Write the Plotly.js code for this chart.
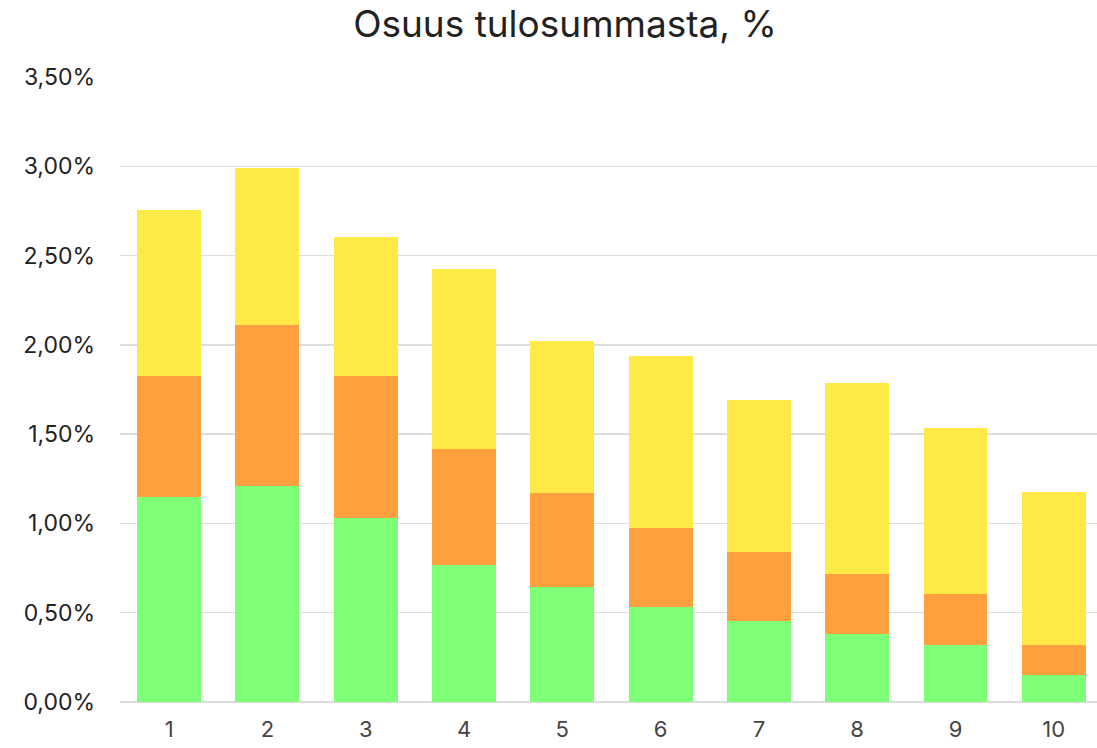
<!DOCTYPE html>
<html>
<head>
<meta charset="utf-8">
<script src="https://cdn.plot.ly/plotly-3.0.1.min.js"></script>
<style>html,body{margin:0;padding:0;background:#fff;}#chart{width:1097px;height:748px;}</style>
</head>
<body>
<div id="chart"></div>
<script>
const categories = ['1','2','3','4','5','6','7','8','9','10'];
// segment values (%)
const greenValues  = [1.148, 1.210, 1.030, 0.767, 0.644, 0.532, 0.454, 0.381, 0.319, 0.151];
const orangeValues = [0.678, 0.901, 0.796, 0.650, 0.526, 0.442, 0.386, 0.336, 0.286, 0.168];
const yellowValues = [0.929, 0.879, 0.778, 1.008, 0.852, 0.964, 0.851, 1.069, 0.929, 0.857];
const yTicks = [0, 0.5, 1, 1.5, 2, 2.5, 3, 3.5];
const yTickLabels = ['0,00%', '0,50%', '1,00%', '1,50%', '2,00%', '2,50%', '3,00%', '3,50%'];

const font = 'Inter, "Work Sans", "Noto Sans", sans-serif';
const mk = (y, color) => ({
  type: 'bar', x: categories, y: y,
  marker: {color: color, line: {width: 0}},
  hoverinfo: 'skip', showlegend: false
});
const data = [
  mk(greenValues, '#7fff77'),
  mk(orangeValues, '#ff9f3d'),
  mk(yellowValues, '#fee946')
];
const layout = {
  width: 1097, height: 748,
  margin: {l: 120, r: 0, t: 77, b: 46},
  paper_bgcolor: '#fff', plot_bgcolor: '#fff',
  barmode: 'stack', bargap: 0.35,
  font: {family: font, color: '#222', size: 23},
  title: {text: 'Osuus tulosummasta, %', x: 0.515, xanchor: 'center', y: 0.968, yanchor: 'middle',
          font: {family: font, size: 37, color: '#222'}},
  xaxis: {type: 'category', range: [-0.5, 9.44], showgrid: false, zeroline: false, showline: false,
          ticks: '', tickfont: {family: font, size: 22, color: '#444'}, ticklabelstandoff: 12},
  yaxis: {range: [0, 3.5], tickvals: yTicks, ticktext: yTickLabels,
          showgrid: true, gridcolor: '#dddddd', gridwidth: 1.5,
          zeroline: true, zerolinecolor: '#dddddd', zerolinewidth: 1.5,
          showline: false, ticks: '', ticklabelstandoff: 24,
          tickfont: {family: font, size: 23, color: '#222'}}
};
Plotly.newPlot('chart', data, layout, {displayModeBar: false, staticPlot: true});
</script>
</body>
</html>
